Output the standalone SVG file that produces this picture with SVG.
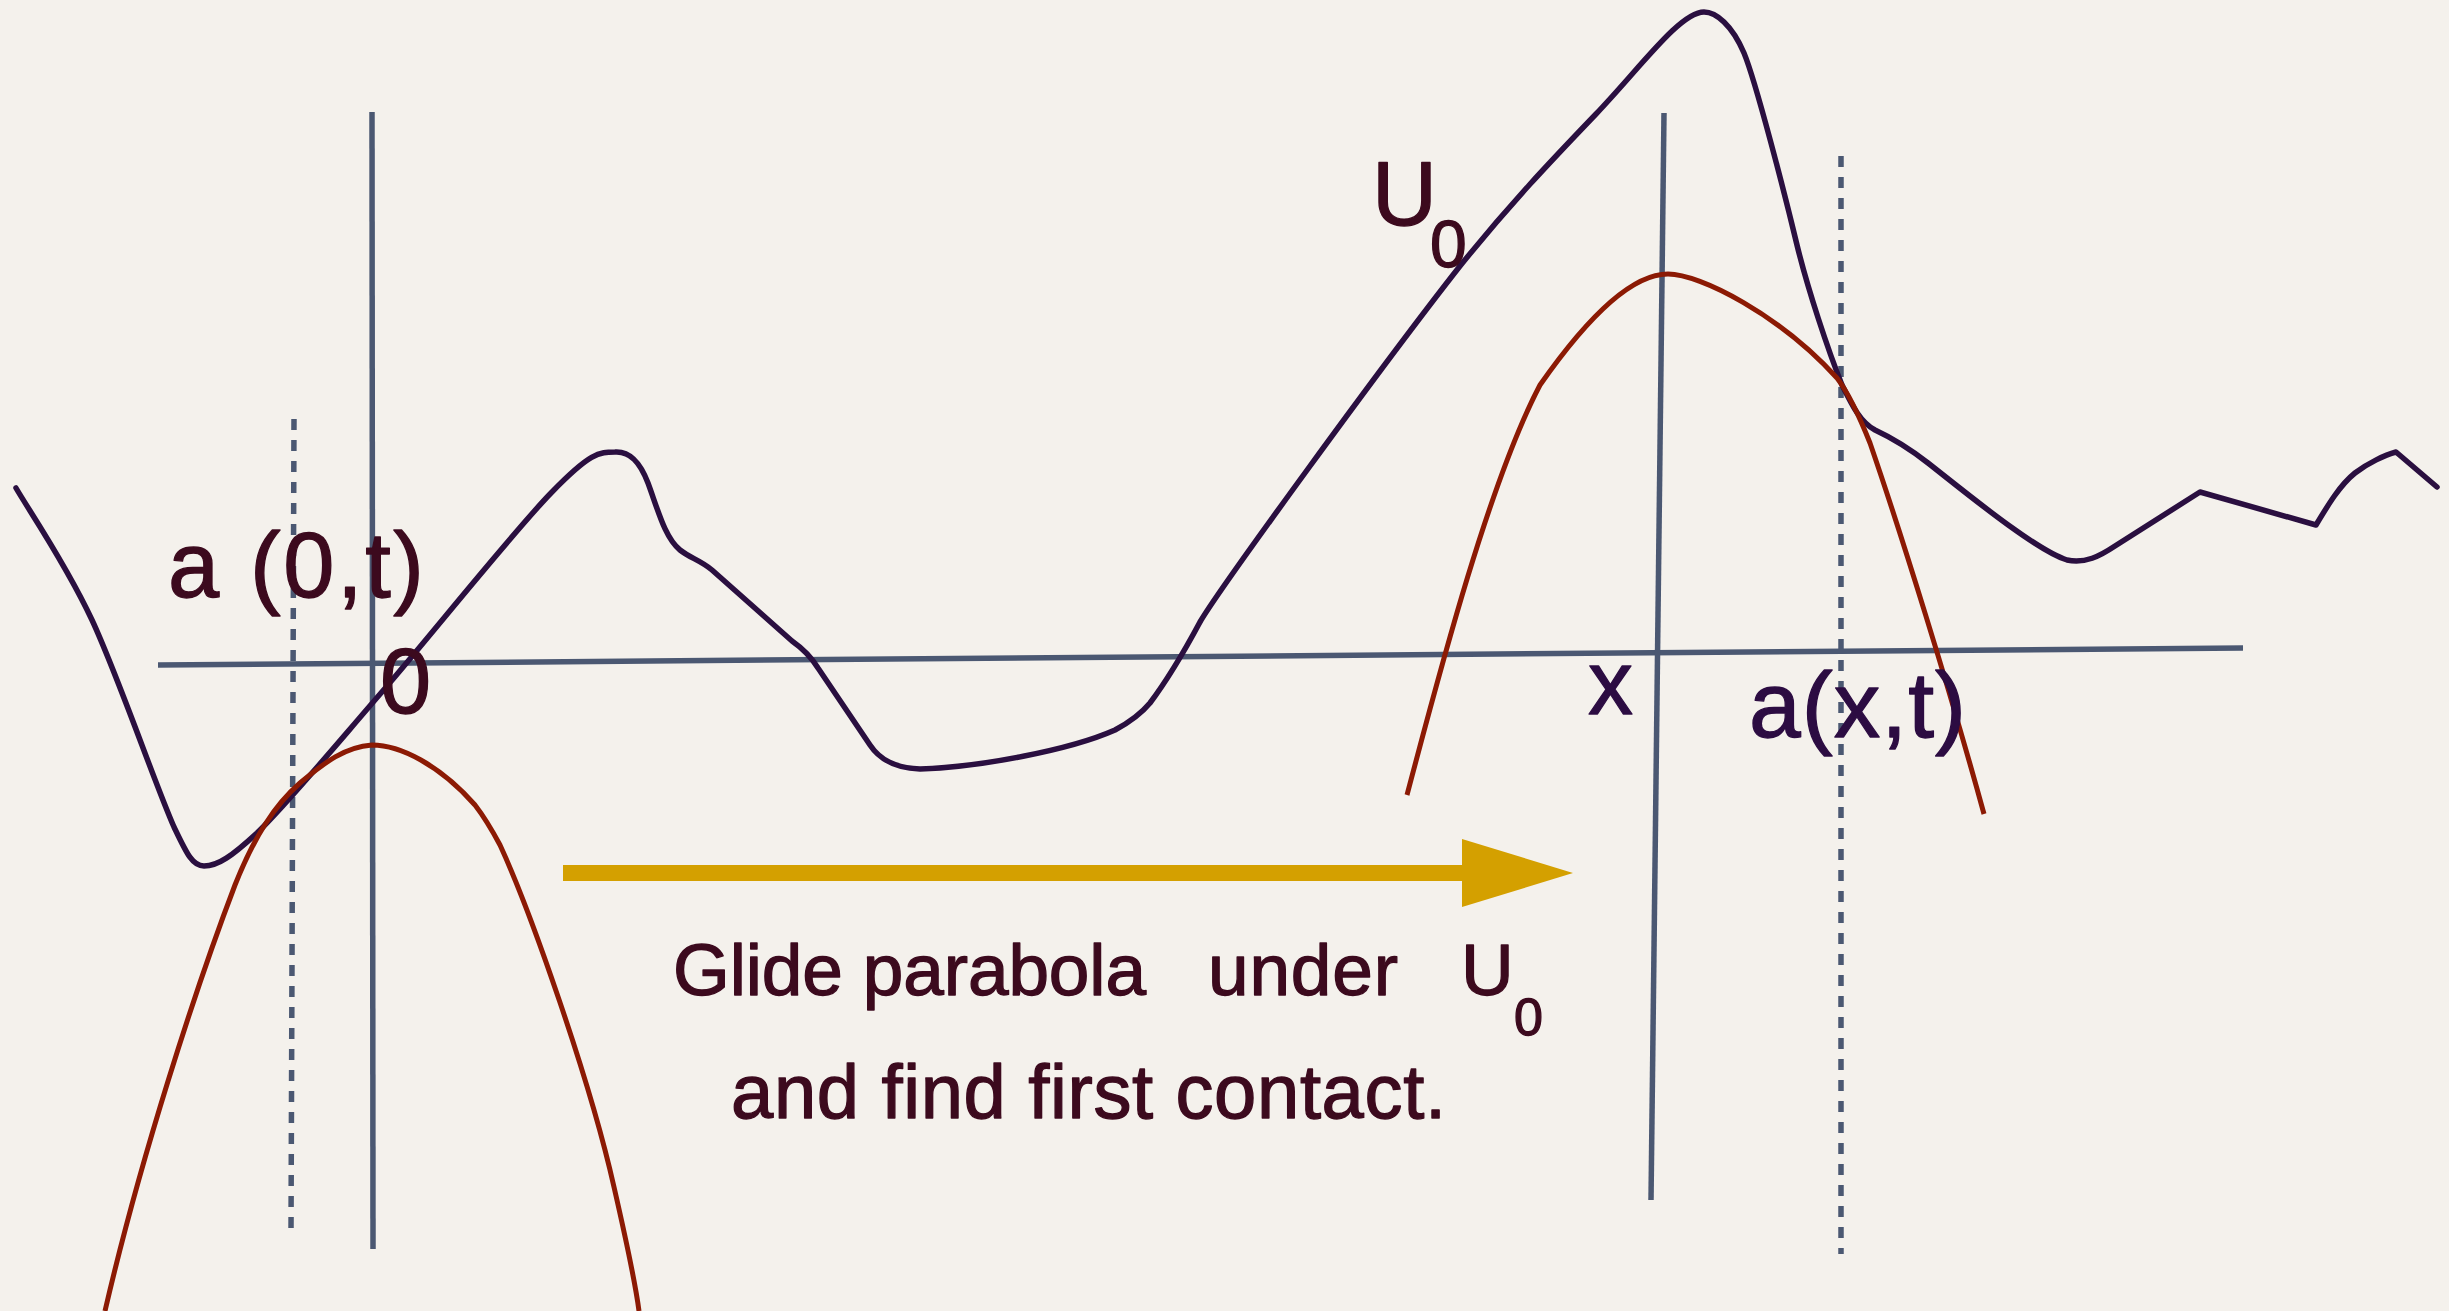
<svg xmlns="http://www.w3.org/2000/svg" width="2449" height="1311" viewBox="0 0 2449 1311">
  <style>
    .axis { stroke: #4b5872; stroke-width: 5.5; fill: none; }
    .dotted { stroke: #4b5872; stroke-width: 5.5; fill: none; stroke-dasharray: 11 10; }
    .u0 { stroke: #2a0f40; stroke-width: 5.5; fill: none; stroke-linejoin: round; stroke-linecap: round; }
    .para { stroke: #8c1a04; stroke-width: 5; fill: none; stroke-linejoin: round; }
    .lbl { font-family: "Liberation Sans", Arial, sans-serif; stroke-width: 1.3; stroke-linejoin: round; }
    .maroon { fill: #3c0a1e; stroke: #3c0a1e; }
    .purple { fill: #2c0c42; stroke: #2c0c42; }
  </style>
  <rect x="0" y="0" width="2449" height="1311" fill="#f4f1ec"/>

  <g id="axes">
    <line class="axis" x1="158" y1="665" x2="2243" y2="648"/>
    <line class="axis" x1="372" y1="112" x2="373" y2="1249"/>
    <line class="axis" x1="1664" y1="113" x2="1651" y2="1200"/>
    <line class="dotted" x1="294" y1="419" x2="291" y2="1234"/>
    <line class="dotted" x1="1841" y1="156" x2="1841" y2="1254"/>
  </g>

  <g id="curve-u0">
    <path class="u0" d="M16,488 C28.7,510 65.7,563.5 92,620 C118.3,676.5 155.7,786 174,827 C186,852 192,866 204,866 C218,866 232,856 257,833 C286.8,804.2 332,749.7 381,693 C430,636.3 512,533.2 551,493 C590,452.8 599,452 615,452 C630,451 640,462 648,483 C658,510 665,538 680,550 C690,558 700,560 712,570 L792,641 C802,648 810,655 818,668 L870,745 C880,760 895,768 920,769 C980,767 1070,750 1115,730 C1130,722 1140,715 1150,703 C1165,683 1185,650 1200,622 C1220,588 1380,368 1460,266 C1510,204 1550,162 1596,114 C1640,68 1680,12 1704,12 C1716,12 1732,25 1744,53 C1756,82 1785,195 1797,245 C1808,290 1828,350 1842,385 C1852,405 1860,422 1875,430 C1890,437 1905,445 1928,463 C1960,488 2035,550 2067,560 C2085,564 2100,556 2115,546 L2200,492 L2316,525 C2328,505 2340,485 2355,473 C2368,463 2385,455 2396,452 L2437,487"/>
  </g>

  <g id="parabola-left">
    <path class="para" d="M105,1311 C140,1160 195,990 235,885 C255,835 275,805 300,783 C325,762 345,747 372,745 C400,745 440,765 475,805 C485,818 492,830 500,845 C530,910 590,1080 614,1187 C625,1235 635,1280 639,1311"/>
  </g>

  <g id="parabola-right">
    <path class="para" d="M1407,795 C1440,670 1490,480 1540,385 C1575,335 1625,274 1668,274 C1700,274 1780,315 1837,378 C1850,395 1860,418 1870,443 C1900,530 1950,690 1984,814"/>
  </g>

  <g id="arrow">
    <rect x="563" y="865" width="900" height="16" fill="#d4a000"/>
    <polygon points="1462,839 1573,873 1462,907" fill="#d4a000"/>
  </g>

  <g id="label-a0t" class="lbl maroon">
    <text x="168" y="597" font-size="92" textLength="256" lengthAdjust="spacing">a (0,t)</text>
  </g>
  <g id="label-origin" class="lbl maroon">
    <text x="380" y="713" font-size="92">0</text>
  </g>
  <g id="label-u0" class="lbl maroon">
    <text x="1372" y="225" font-size="90">U</text>
    <text x="1430" y="267" font-size="66">0</text>
  </g>
  <g id="label-x" class="lbl purple">
    <text x="1588" y="714" font-size="90">x</text>
  </g>
  <g id="label-axt" class="lbl purple">
    <text x="1749" y="737" font-size="93" textLength="217" lengthAdjust="spacing">a(x,t)</text>
  </g>
  <g id="caption" class="lbl maroon">
    <text x="673" y="995" font-size="73" textLength="473" lengthAdjust="spacing">Glide parabola</text>
    <text x="1208" y="995" font-size="73" textLength="190" lengthAdjust="spacing">under</text>
    <text x="1461" y="995" font-size="73">U</text>
    <text x="1514" y="1035" font-size="52">0</text>
    <text x="731" y="1118" font-size="76" textLength="715" lengthAdjust="spacing">and find first contact.</text>
  </g>
</svg>
